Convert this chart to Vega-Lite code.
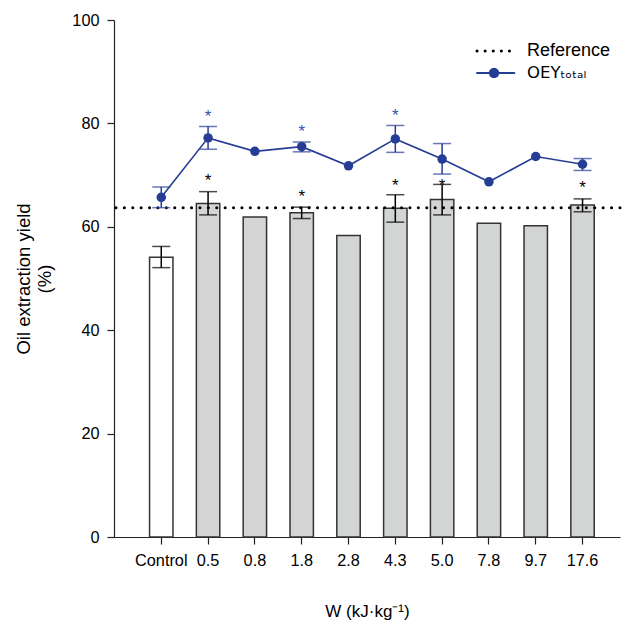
{
  "$schema": "https://vega.github.io/schema/vega-lite/v6.json",
  "width": 506,
  "height": 517,
  "autosize": "none",
  "padding": {"left": 114, "top": 20, "right": 7, "bottom": 87},
  "background": "white",
  "config": {
    "font": "Liberation Sans",
    "view": {"stroke": null},
    "axis": {"grid": false, "domainColor": "#222", "tickColor": "#222", "labelColor": "black", "titleColor": "black", "labelFontSize": 16.3, "titleFontWeight": "normal", "tickSize": 7, "domainWidth": 1.2, "tickWidth": 1.2}
  },
  "data": {
    "values": [
      {"cat": "Control", "bar": 54.1, "bl": 52.1, "bh": 56.2, "oey": 65.7, "ol": 63.7, "oh": 67.7, "sb": null, "so": null},
      {"cat": "0.5", "bar": 64.5, "bl": 62.3, "bh": 66.8, "oey": 77.2, "ol": 75.0, "oh": 79.4, "sb": 69.6, "so": 82.1},
      {"cat": "0.8", "bar": 61.9, "bl": null, "bh": null, "oey": 74.6, "ol": null, "oh": null, "sb": null, "so": null},
      {"cat": "1.8", "bar": 62.7, "bl": 61.6, "bh": 63.8, "oey": 75.5, "ol": 74.5, "oh": 76.4, "sb": 66.5, "so": 79.2},
      {"cat": "2.8", "bar": 58.3, "bl": null, "bh": null, "oey": 71.8, "ol": null, "oh": null, "sb": null, "so": null},
      {"cat": "4.3", "bar": 63.6, "bl": 60.9, "bh": 66.2, "oey": 77.0, "ol": 74.4, "oh": 79.6, "sb": 68.7, "so": 82.3},
      {"cat": "5.0", "bar": 65.3, "bl": 62.3, "bh": 68.2, "oey": 73.1, "ol": 70.2, "oh": 76.1, "sb": 68.7, "so": null},
      {"cat": "7.8", "bar": 60.7, "bl": null, "bh": null, "oey": 68.7, "ol": null, "oh": null, "sb": null, "so": null},
      {"cat": "9.7", "bar": 60.2, "bl": null, "bh": null, "oey": 73.6, "ol": null, "oh": null, "sb": null, "so": null},
      {"cat": "17.6", "bar": 64.2, "bl": 62.9, "bh": 65.4, "oey": 72.1, "ol": 70.9, "oh": 73.2, "sb": 68.2, "so": null}
    ]
  },
  "layer": [
    {
      "mark": {"type": "bar", "stroke": "#333", "strokeWidth": 1.5},
      "encoding": {
        "x": {
          "field": "cat", "type": "nominal", "sort": null,
          "scale": {"type": "band", "paddingInner": 0.5, "paddingOuter": 0.655, "align": 0.58},
          "axis": {"title": "W (kJ·kg⁻¹)", "titleFontSize": 17, "labelAngle": 0, "labelPadding": 8, "titlePadding": 35}
        },
        "y": {"field": "bar", "type": "quantitative", "scale": {"domain": [0, 100], "nice": false},
          "axis": {"title": ["Oil extraction yield", "(%)"], "titleFontSize": 18.5, "titleLineHeight": 21, "values": [0, 20, 40, 60, 80, 100], "labelPadding": 8, "titlePadding": 17}},
        "fill": {"condition": {"test": "datum.cat === 'Control'", "value": "white"}, "value": "#d3d4d4"}
      }
    },
    {
      "transform": [{"filter": "isValid(datum.bl)"}],
      "mark": {"type": "rule", "color": "black", "strokeWidth": 1.5},
      "encoding": {"x": {"field": "cat", "type": "nominal", "sort": null}, "y": {"field": "bl", "type": "quantitative"}, "y2": {"field": "bh"}}
    },
    {
      "transform": [{"filter": "isValid(datum.bl)"}],
      "mark": {"type": "tick", "color": "black", "size": 18, "thickness": 1.5},
      "encoding": {"x": {"field": "cat", "type": "nominal", "sort": null}, "y": {"field": "bl", "type": "quantitative"}}
    },
    {
      "transform": [{"filter": "isValid(datum.bh)"}],
      "mark": {"type": "tick", "color": "black", "size": 18, "thickness": 1.5},
      "encoding": {"x": {"field": "cat", "type": "nominal", "sort": null}, "y": {"field": "bh", "type": "quantitative"}}
    },
    {
      "transform": [{"filter": "isValid(datum.sb)"}],
      "mark": {"type": "text", "text": "*", "fontSize": 17, "color": "black", "baseline": "middle", "dy": 4},
      "encoding": {"x": {"field": "cat", "type": "nominal", "sort": null}, "y": {"field": "sb", "type": "quantitative"}}
    },
    {
      "data": {"values": [{"ref": 63.7}]},
      "mark": {"type": "rule", "strokeWidth": 3, "strokeDash": [0.1, 8.3], "strokeCap": "round"},
      "encoding": {
        "y": {"field": "ref", "type": "quantitative"},
        "color": {"datum": "Reference", "type": "nominal",
          "scale": {"domain": ["Reference", "OEY"], "range": ["black", "#263d96"]},
          "legend": {
            "title": null, "orient": "none", "legendX": 371, "legendY": 22,
            "labelFontSize": 18, "labelColor": "black", "labelOffset": 24,
            "symbolSize": 1156, "symbolStrokeWidth": 1.8, "rowPadding": 4,
            "labelExpr": "datum.label === 'OEY' ? 'OEYₜₒₜₐₗ' : datum.label",
            "encode": {
              "labels": {
                "update": {
                  "font": {"signal": "datum.label === 'OEY' ? 'DejaVu Sans' : 'Liberation Sans'"},
                  "fontSize": {"signal": "datum.label === 'OEY' ? 16.5 : 18"}
                }
              },
              "symbols": {
                "update": {
                  "shape": {"signal": "datum.label === 'Reference' ? 'stroke' : 'M-1,0L1.2,0M-0.25,0A0.25,0.25,0,1,1,0.25,0A0.25,0.25,0,1,1,-0.25,0Z'"},
                  "strokeDash": {"signal": "datum.label === 'Reference' ? [0.1, 8] : [1, 0]"},
                  "strokeWidth": {"signal": "datum.label === 'Reference' ? 3 : 1.8"},
                  "strokeCap": {"value": "round"},
                  "fill": {"signal": "datum.label === 'Reference' ? 'transparent' : '#263d96'"}
                }
              }
            }
          }
        }
      }
    },
    {
      "mark": {"type": "line", "strokeWidth": 1.6},
      "encoding": {
        "x": {"field": "cat", "type": "nominal", "sort": null},
        "y": {"field": "oey", "type": "quantitative"},
        "color": {"datum": "OEY", "type": "nominal"}
      }
    },
    {
      "transform": [{"filter": "isValid(datum.ol)"}],
      "mark": {"type": "rule", "color": "#263d96", "strokeWidth": 1.5},
      "encoding": {"x": {"field": "cat", "type": "nominal", "sort": null}, "y": {"field": "ol", "type": "quantitative"}, "y2": {"field": "oh"}}
    },
    {
      "transform": [{"filter": "isValid(datum.ol)"}],
      "mark": {"type": "tick", "color": "#263d96", "size": 18, "thickness": 1.5},
      "encoding": {"x": {"field": "cat", "type": "nominal", "sort": null}, "y": {"field": "ol", "type": "quantitative"}}
    },
    {
      "transform": [{"filter": "isValid(datum.oh)"}],
      "mark": {"type": "tick", "color": "#263d96", "size": 18, "thickness": 1.5},
      "encoding": {"x": {"field": "cat", "type": "nominal", "sort": null}, "y": {"field": "oh", "type": "quantitative"}}
    },
    {
      "mark": {"type": "point", "filled": true, "opacity": 1, "size": 90, "color": "#263d96"},
      "encoding": {"x": {"field": "cat", "type": "nominal", "sort": null}, "y": {"field": "oey", "type": "quantitative"}}
    },
    {
      "transform": [{"filter": "isValid(datum.so)"}],
      "mark": {"type": "text", "text": "*", "fontSize": 17, "color": "#3a52b0", "baseline": "middle", "dy": 4},
      "encoding": {"x": {"field": "cat", "type": "nominal", "sort": null}, "y": {"field": "so", "type": "quantitative"}}
    }
  ]
}
